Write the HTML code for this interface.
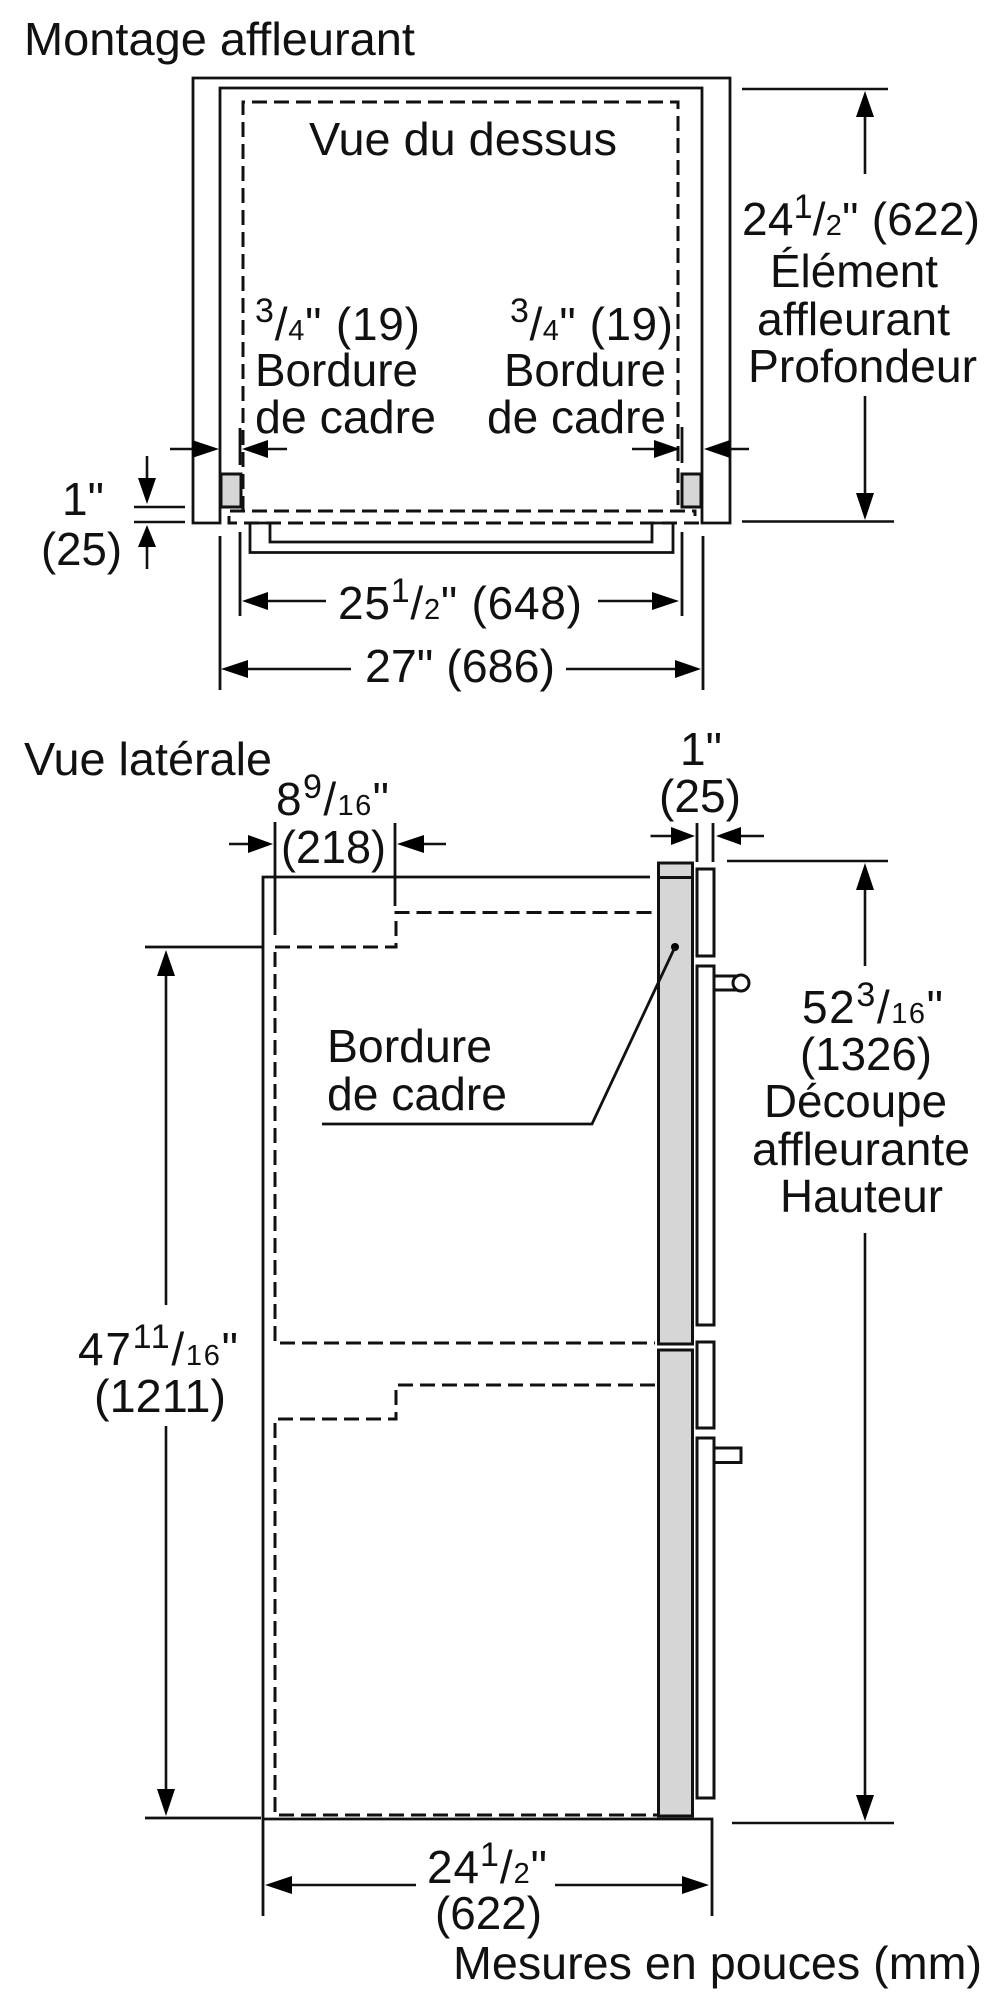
<!DOCTYPE html>
<html lang="fr">
<head>
<meta charset="utf-8">
<title>Montage affleurant</title>
<style>
html,body{margin:0;padding:0;background:#fff;width:1000px;height:2000px;overflow:hidden}
svg{display:block}
text{font-family:"Liberation Sans",Arial,sans-serif;font-size:46px;fill:#111}
.u{font-size:34px}
.s{font-size:29px}
.l{fill:none;stroke:#111;stroke-width:2.8}
.t{fill:none;stroke:#111;stroke-width:2.6}
.d{fill:none;stroke:#111;stroke-width:3;stroke-dasharray:15 7}
.a{fill:#000;stroke:none}
.g{fill:#d6d6d6;stroke:#111;stroke-width:3}
.w{fill:#fff;stroke:#111;stroke-width:3}
</style>
</head>
<body>
<svg xmlns="http://www.w3.org/2000/svg" width="1000" height="2000" viewBox="0 0 1000 2000">
<rect width="1000" height="2000" fill="#fff"/>

<!-- TOP VIEW -->
<path class="l" d="M220 523H193V78H730V523H702V88H220Z"/>
<path class="d" d="M243 511V102H678V506"/>
<path class="d" d="M230 511H695V516"/>
<path class="d" d="M229 516V523H702"/>
<rect class="g" x="221" y="474" width="20" height="33"/>
<rect class="g" x="682" y="474" width="19" height="33"/>
<path class="l" d="M250 523V552.5H673V523M270 523V542H652V523M250 523H270M652 523H673"/>
<path class="l" d="M240 428V465M682 427V463M220 536V690M240 532V616M682 532V616M703 536V690"/>

<!-- top arrows -->
<path class="t" d="M170 449H195M268 449H287M632 449H656M730 449H749"/>
<path class="a" d="M219 449L192 440V458ZM242 449L268 440V458ZM680 449L654 440V458ZM704 449L730 440V458Z"/>
<path class="t" d="M134 507H185M134 522H185"/>
<path class="t" d="M147 456V480M147 545V569"/>
<path class="a" d="M147 504L138 478H156ZM147 525L138 547H156Z"/>
<path class="t" d="M742 89H888M742 521.5H894M865 115V174M865 396V495"/>
<path class="a" d="M865 91L856 117H874ZM865 520L856 493H874Z"/>
<path class="t" d="M266 601H326M598 601H654"/>
<path class="a" d="M242 601L268 592V610ZM679 601L652 592V610Z"/>
<path class="t" d="M246 669H351M566 669H677"/>
<path class="a" d="M221 669L248 660V678ZM701 669L675 660V678Z"/>

<!-- top text -->
<text x="24" y="55" textLength="391" lengthAdjust="spacingAndGlyphs">Montage affleurant</text>
<text x="309" y="155" textLength="308" lengthAdjust="spacingAndGlyphs">Vue du dessus</text>
<text x="742" y="235" textLength="238">24<tspan class="u" dy="-17">1</tspan><tspan dy="17">/</tspan><tspan class="s">2</tspan>" (622)</text>
<text x="770" y="287" textLength="168" lengthAdjust="spacingAndGlyphs">Élément</text>
<text x="757" y="335" textLength="193" lengthAdjust="spacingAndGlyphs">affleurant</text>
<text x="748" y="382" textLength="229" lengthAdjust="spacingAndGlyphs">Profondeur</text>
<text x="255" y="340" textLength="165"><tspan class="u" dy="-18">3</tspan><tspan dy="18">/</tspan><tspan class="s">4</tspan>" (19)</text>
<text x="255" y="386" textLength="163" lengthAdjust="spacingAndGlyphs">Bordure</text>
<text x="255" y="433" textLength="181" lengthAdjust="spacingAndGlyphs">de cadre</text>
<text x="510" y="340" textLength="163"><tspan class="u" dy="-18">3</tspan><tspan dy="18">/</tspan><tspan class="s">4</tspan>" (19)</text>
<text x="504" y="386" textLength="162" lengthAdjust="spacingAndGlyphs">Bordure</text>
<text x="487" y="433" textLength="179" lengthAdjust="spacingAndGlyphs">de cadre</text>
<text x="83" y="515" text-anchor="middle">1"</text>
<text x="41" y="565" textLength="81" lengthAdjust="spacingAndGlyphs">(25)</text>
<text x="338" y="619" textLength="244">25<tspan class="u" dy="-17">1</tspan><tspan dy="17">/</tspan><tspan class="s">2</tspan>" (648)</text>
<text x="365" y="682" textLength="190" lengthAdjust="spacingAndGlyphs">27" (686)</text>

<!-- SIDE VIEW -->
<path class="l" d="M650 877H263V1916M145 947H263M145 1818H261M263 1819H712V1916"/>
<path class="l" d="M275 822V935M395 823V906"/>
<path class="d" d="M275 952V1343H655"/>
<path class="d" d="M275 947H396V912.5H655"/>
<path class="d" d="M655 1385H396V1419H275V1815H660"/>
<rect class="g" x="658.5" y="863" width="34" height="481"/>
<path class="l" d="M658 877.5H693" style="stroke-width:3"/>
<rect class="g" x="658.5" y="1350" width="34" height="466"/>
<rect class="w" x="697" y="869" width="17" height="87"/>
<rect class="w" x="697" y="966" width="17" height="359"/>
<rect class="w" x="697" y="1342" width="17" height="86"/>
<rect class="w" x="697" y="1438" width="17" height="360"/>
<rect class="w" x="714" y="976" width="24" height="14"/>
<circle class="w" cx="741" cy="983" r="8"/>
<rect class="w" x="714" y="1448" width="27" height="14.5"/>
<circle cx="675" cy="947" r="4" fill="#000"/>
<path class="l" d="M675 947L592 1124H322"/>

<!-- side arrows -->
<path class="t" d="M229 844H250M422 844H446"/>
<path class="a" d="M273 844L248 835V853ZM397 844L424 835V853Z"/>
<path class="l" d="M697 823V862M713 823V862"/>
<path class="t" d="M650.5 836H673M739 836H764"/>
<path class="a" d="M695 836L671 827V845ZM716 836L741 827V845Z"/>
<path class="t" d="M727 861H888M732 1823H894M865 888V966M865 1233V1798"/>
<path class="a" d="M865 863L856 890H874ZM865 1821L856 1795H874Z"/>
<path class="t" d="M166 974V1305M166 1426V1791"/>
<path class="a" d="M166 950L157 976H175ZM166 1816L157 1789H175Z"/>
<path class="t" d="M290 1885H416M555 1885H684"/>
<path class="a" d="M265 1885L292 1876V1894ZM709 1885L682 1876V1894Z"/>

<!-- side text -->
<text x="24" y="775" textLength="248" lengthAdjust="spacingAndGlyphs">Vue latérale</text>
<text x="276" y="815" textLength="113">8<tspan class="u" dy="-17">9</tspan><tspan dy="17">/</tspan><tspan class="s">16</tspan>"</text>
<text x="281" y="863" textLength="105" lengthAdjust="spacingAndGlyphs">(218)</text>
<text x="701" y="765" text-anchor="middle">1"</text>
<text x="659" y="812" textLength="82" lengthAdjust="spacingAndGlyphs">(25)</text>
<text x="802" y="1023" textLength="141">52<tspan class="u" dy="-17">3</tspan><tspan dy="17">/</tspan><tspan class="s">16</tspan>"</text>
<text x="800" y="1070" textLength="132" lengthAdjust="spacingAndGlyphs">(1326)</text>
<text x="764" y="1117" textLength="183" lengthAdjust="spacingAndGlyphs">Découpe</text>
<text x="752" y="1165" textLength="218" lengthAdjust="spacingAndGlyphs">affleurante</text>
<text x="780" y="1212" textLength="163" lengthAdjust="spacingAndGlyphs">Hauteur</text>
<text x="327" y="1062" textLength="165" lengthAdjust="spacingAndGlyphs">Bordure</text>
<text x="327" y="1110" textLength="180" lengthAdjust="spacingAndGlyphs">de cadre</text>
<text x="78" y="1365" textLength="160">47<tspan class="u" dy="-17">11</tspan><tspan dy="17">/</tspan><tspan class="s">16</tspan>"</text>
<text x="94" y="1412" textLength="132" lengthAdjust="spacingAndGlyphs">(1211)</text>
<text x="427" y="1883" textLength="120">24<tspan class="u" dy="-17">1</tspan><tspan dy="17">/</tspan><tspan class="s">2</tspan>"</text>
<text x="435" y="1929" textLength="107" lengthAdjust="spacingAndGlyphs">(622)</text>
<text x="453" y="1979" textLength="529" lengthAdjust="spacingAndGlyphs">Mesures en pouces (mm)</text>
</svg>
</body>
</html>
